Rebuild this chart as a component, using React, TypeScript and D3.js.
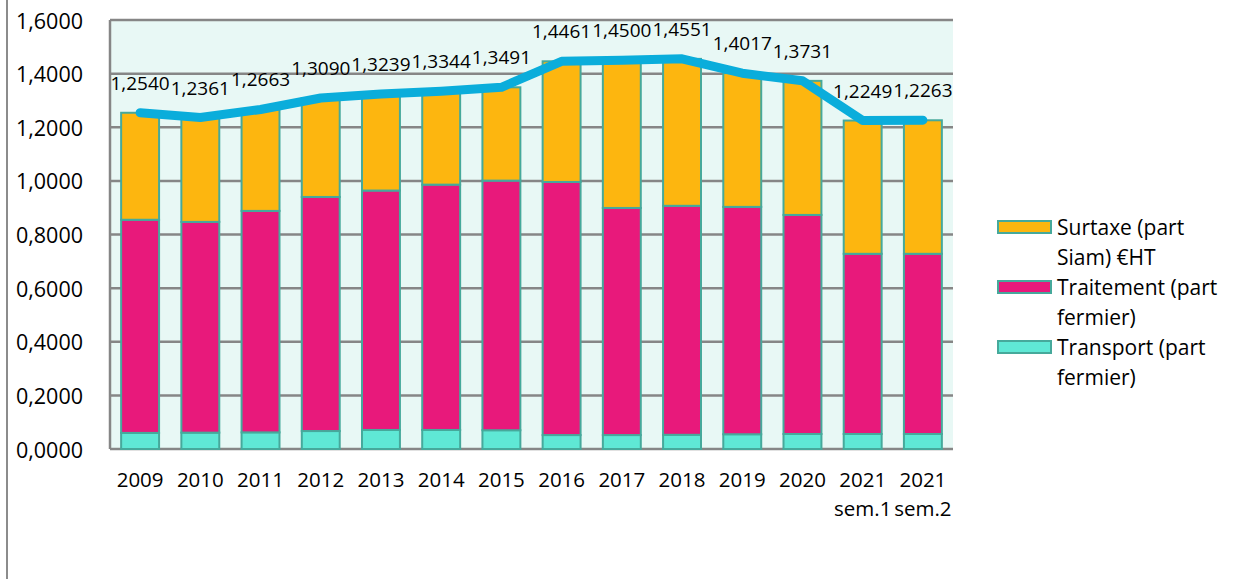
import React from "react";
import * as d3 from "d3";

const categories = ["2009", "2010", "2011", "2012", "2013", "2014", "2015", "2016", "2017", "2018", "2019", "2020", "2021 sem.1", "2021 sem.2"];
const categoryLines = [["2009"], ["2010"], ["2011"], ["2012"], ["2013"], ["2014"], ["2015"], ["2016"], ["2017"], ["2018"], ["2019"], ["2020"], ["2021", "sem.1"], ["2021", "sem.2"]];
const transport = [0.060, 0.061, 0.062, 0.067, 0.071, 0.071, 0.070, 0.052, 0.052, 0.053, 0.055, 0.056, 0.056, 0.056];
const traitement = [0.795, 0.786, 0.826, 0.873, 0.893, 0.915, 0.931, 0.944, 0.847, 0.854, 0.848, 0.817, 0.672, 0.672];
const surtaxe = [0.399, 0.389, 0.378, 0.369, 0.360, 0.348, 0.348, 0.450, 0.551, 0.548, 0.499, 0.500, 0.497, 0.498];
const totals = [1.2540, 1.2361, 1.2663, 1.3090, 1.3239, 1.3344, 1.3491, 1.4461, 1.4500, 1.4551, 1.4017, 1.3731, 1.2249, 1.2263];
const yTicks = [0, 0.2, 0.4, 0.6, 0.8, 1.0, 1.2, 1.4, 1.6];
const seriesNames = [["Surtaxe (part", "Siam) €HT"], ["Traitement (part", "fermier)"], ["Transport (part", "fermier)"]];
const seriesColors = ["#FDB60F", "#E8197B", "#5FE8D5"];

const FONT = "'Open Sans', sans-serif";
const fmt = (v: number) => d3.format(".4f")(v).replace(".", ",");

export default function App() {
  const W = 1233, H = 579;
  const left = 110, right = 953, top = 20, bottom = 449;
  const x = d3.scaleBand<string>().domain(categories).range([left, right]).paddingInner(0.37).paddingOuter(0.185);
  const y = d3.scaleLinear().domain([0, 1.6]).range([bottom, top]);

  const rows = categories.map((c, i) => ({ c, transport: transport[i], traitement: traitement[i], surtaxe: surtaxe[i] }));
  const stack = d3.stack<any>().keys(["transport", "traitement", "surtaxe"])(rows);
  const keyColor: Record<string, string> = { transport: seriesColors[2], traitement: seriesColors[1], surtaxe: seriesColors[0] };

  const cx = (c: string) => (x(c) as number) + x.bandwidth() / 2;
  const line = d3.line<number>().x((_, i) => cx(categories[i])).y((v) => y(v));

  return (
    <svg width={W} height={H} style={{ position: "absolute", left: 0, top: 0, background: "#fff" }}>
      <line x1={7} x2={7} y1={0} y2={H} stroke="#8c8c8c" strokeWidth={2} />
      <rect x={left} y={top} width={right - left} height={bottom - top} fill="#E8F8F5" />
      {yTicks.map((t) => (
        <line key={t} x1={left} x2={right} y1={y(t)} y2={y(t)} stroke="#868686" strokeWidth={2.5} />
      ))}
      <line x1={left} x2={left} y1={top} y2={bottom} stroke="#868686" strokeWidth={2.5} />
      {yTicks.map((t) => (
        <text key={"l" + t} x={83} y={y(t)} dominantBaseline="central" textAnchor="end" fontFamily={FONT} fontSize={21.5} fill="#000">
          {fmt(t)}
        </text>
      ))}
      {stack.map((s) =>
        s.map((d, i) => (
          <rect
            key={s.key + i}
            x={x(categories[i])}
            y={y(d[1])}
            width={x.bandwidth()}
            height={y(d[0]) - y(d[1])}
            fill={keyColor[s.key]}
            stroke="#46A99B"
            strokeWidth={2}
          />
        ))
      )}
      <path d={line(totals) || ""} fill="none" stroke="#0AADDB" strokeWidth={9} strokeLinecap="round" strokeLinejoin="round" />
      {totals.map((v, i) => (
        <text key={"v" + i} x={cx(categories[i])} y={y(v) - 30} dominantBaseline="central" textAnchor="middle" fontFamily={FONT} fontSize={19} fill="#000">
          {fmt(v)}
        </text>
      ))}
      {categoryLines.map((lines, i) =>
        lines.map((s, j) => (
          <text key={"c" + i + j} x={cx(categories[i])} y={479 + j * 29} dominantBaseline="central" textAnchor="middle" fontFamily={FONT} fontSize={20.5} fill="#000">
            {s}
          </text>
        ))
      )}
      {seriesNames.map((lines, i) => (
        <g key={"lg" + i}>
          <rect x={998} y={221 + i * 60} width={53} height={12} fill={seriesColors[i]} stroke="#46A99B" strokeWidth={2} />
          {lines.map((s, j) => (
            <text key={j} x={1057} y={227 + i * 60 + j * 30} dominantBaseline="central" fontFamily={FONT} fontSize={21} fill="#000">
              {s}
            </text>
          ))}
        </g>
      ))}
    </svg>
  );
}
